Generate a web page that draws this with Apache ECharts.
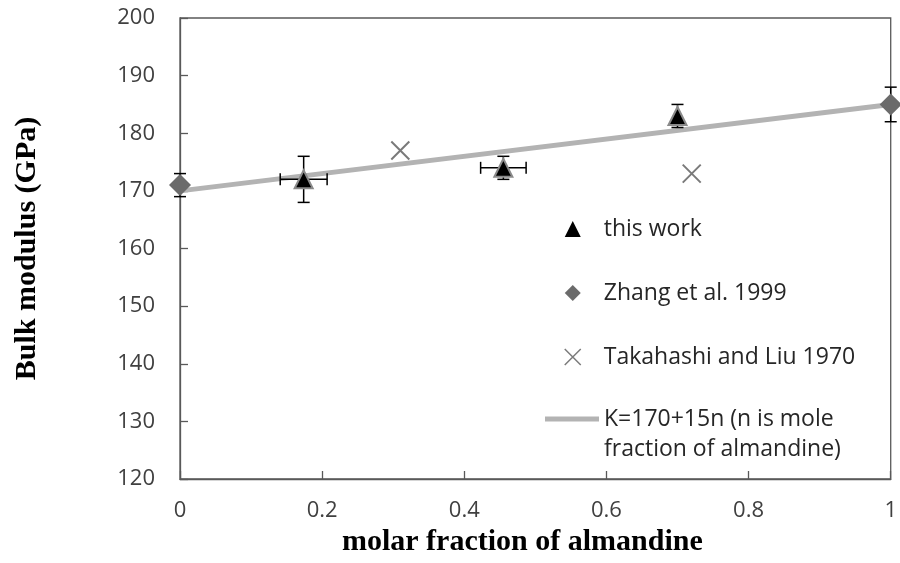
<!DOCTYPE html>
<html>
<head>
<meta charset="utf-8">
<script src="https://cdn.jsdelivr.net/npm/echarts@6/dist/echarts.min.js"></script>
<style>html,body{margin:0;padding:0;background:#fff}#c{width:900px;height:563px}</style>
</head>
<body>
<div id="c"></div>
<script>
// ---- data ----
const thisWorkX = [0.174, 0.455, 0.70];
const thisWorkY = [172, 174, 183];
const thisWorkYErr = [4, 2, 2];
const thisWorkXErr = [0.033, 0.032, 0];

const zhangX = [0, 1];
const zhangY = [171, 185];
const zhangYErr = [2, 3];

const takahashiX = [0.31, 0.72];
const takahashiY = [177, 173];

const fitX = [0, 1];
const fitY = [170, 185];

const seriesNames = ['this work', 'Zhang et al. 1999', 'Takahashi and Liu 1970', 'K=170+15n (n is mole\nfraction of almandine)'];
const xTitle = 'molar fraction of almandine';
const yTitle = 'Bulk modulus (GPa)';

// ---- build ----
const zip = (xs, ys) => xs.map((x, i) => [x, ys[i]]);
const errData = thisWorkX.map((x, i) => [x, thisWorkY[i], thisWorkYErr[i], thisWorkXErr[i]])
  .concat(zhangX.map((x, i) => [x, zhangY[i], zhangYErr[i], 0]));

const axisColor = '#595959';
const labelFont = { fontFamily: 'Open Sans', fontSize: 22, color: '#404040' };
const titleFont = { fontFamily: 'Liberation Serif', fontWeight: 'bold', fontSize: 30, color: '#000' };
const legendFont = { fontFamily: 'Open Sans', fontSize: 23, color: '#262626' };
const xMark = 'path://M0,0L10,10M10,0L0,10';

function renderErr(params, api) {
  const x = api.value(0), y = api.value(1), ey = api.value(2), ex = api.value(3);
  const children = [];
  const st = { stroke: '#000', lineWidth: 1.5 };
  const cap = 6;
  if (ey > 0) {
    const top = api.coord([x, y + ey]);
    const bot = api.coord([x, y - ey]);
    children.push({ type: 'line', shape: { x1: top[0], y1: top[1], x2: bot[0], y2: bot[1] }, style: st });
    children.push({ type: 'line', shape: { x1: top[0] - cap, y1: top[1], x2: top[0] + cap, y2: top[1] }, style: st });
    children.push({ type: 'line', shape: { x1: bot[0] - cap, y1: bot[1], x2: bot[0] + cap, y2: bot[1] }, style: st });
  }
  if (ex > 0) {
    const l = api.coord([x - ex, y]);
    const r = api.coord([x + ex, y]);
    children.push({ type: 'line', shape: { x1: l[0], y1: l[1], x2: r[0], y2: r[1] }, style: st });
    children.push({ type: 'line', shape: { x1: l[0], y1: l[1] - cap, x2: l[0], y2: l[1] + cap }, style: st });
    children.push({ type: 'line', shape: { x1: r[0], y1: r[1] - cap, x2: r[0], y2: r[1] + cap }, style: st });
  }
  return { type: 'group', children };
}

const chart = echarts.init(document.getElementById('c'), null, { renderer: 'canvas' });
chart.setOption({
  animation: false,
  backgroundColor: '#fff',
  grid: { left: 180, right: 9, top: 18, bottom: 84, show: true, borderColor: axisColor, borderWidth: 1.3 },
  xAxis: {
    type: 'value', min: 0, max: 1, interval: 0.2,
    name: xTitle, nameLocation: 'middle', nameGap: 30,
    nameTextStyle: Object.assign({ padding: [0, 26, 0, 0] }, titleFont),
    axisLine: { show: true, lineStyle: { color: axisColor, width: 1.3 } },
    axisTick: { show: true, inside: true, length: 8, lineStyle: { color: axisColor, width: 1.3 } },
    axisLabel: Object.assign({ margin: 21 }, labelFont),
    splitLine: { show: false }
  },
  yAxis: {
    type: 'value', min: 120, max: 200, interval: 10,
    name: yTitle, nameLocation: 'middle', nameGap: 138,
    nameTextStyle: Object.assign({ padding: [0, 0, 0, 0] }, titleFont),
    axisLine: { show: true, lineStyle: { color: axisColor, width: 1.3 } },
    axisTick: { show: true, inside: true, length: 8, lineStyle: { color: axisColor, width: 1.3 } },
    axisLabel: Object.assign({ margin: 25 }, labelFont),
    splitLine: { show: false }
  },
  legend: [
    {
      orient: 'vertical', left: 564, top: 215, padding: 0,
      itemWidth: 16, itemHeight: 16, itemGap: 36, symbolKeepAspect: true,
      textStyle: Object.assign({ lineHeight: 28, padding: [0, 0, 0, 18] }, legendFont),
      data: [
        { name: seriesNames[0], icon: 'triangle', itemStyle: { color: '#000', borderColor: '#000', borderWidth: 0 } },
        { name: seriesNames[1], icon: 'diamond', itemStyle: { color: '#6b6b6b', borderWidth: 0 } },
        { name: seriesNames[2], icon: xMark, itemStyle: { color: 'transparent', borderColor: '#7a7a7a', borderWidth: 1.5 } }
      ]
    },
    {
      orient: 'vertical', left: 545, top: 374, padding: 0,
      itemWidth: 54, itemHeight: 5,
      formatter: name => ' \n' + name,
      textStyle: Object.assign({ lineHeight: 30 }, legendFont),
      data: [{ name: seriesNames[3], icon: 'rect', itemStyle: { color: '#b3b3b3', borderWidth: 0 } }]
    }
  ],
  series: [
    {
      name: seriesNames[3], type: 'line', data: zip(fitX, fitY),
      showSymbol: false, symbol: 'none', z: 1,
      lineStyle: { color: '#b3b3b3', width: 5 }, itemStyle: { color: '#b3b3b3' }
    },
    {
      type: 'custom', renderItem: renderErr, data: errData, z: 2, clip: false,
      encode: { x: 0, y: 1 }, silent: true
    },
    {
      name: seriesNames[0], type: 'scatter', data: zip(thisWorkX, thisWorkY), z: 3,
      symbol: 'triangle', symbolSize: 18,
      itemStyle: { color: '#000', borderColor: '#8a8a8a', borderWidth: 2, opacity: 1 }
    },
    {
      name: seriesNames[1], type: 'scatter', data: zip(zhangX, zhangY), z: 3,
      symbol: 'diamond', symbolSize: 22, clip: false,
      itemStyle: { color: '#6b6b6b', opacity: 1 }
    },
    {
      name: seriesNames[2], type: 'scatter', data: zip(takahashiX, takahashiY), z: 3,
      symbol: xMark, symbolSize: 18,
      itemStyle: { color: 'transparent', borderColor: '#7a7a7a', borderWidth: 2, opacity: 1 }
    }
  ]
});
</script>
</body>
</html>
